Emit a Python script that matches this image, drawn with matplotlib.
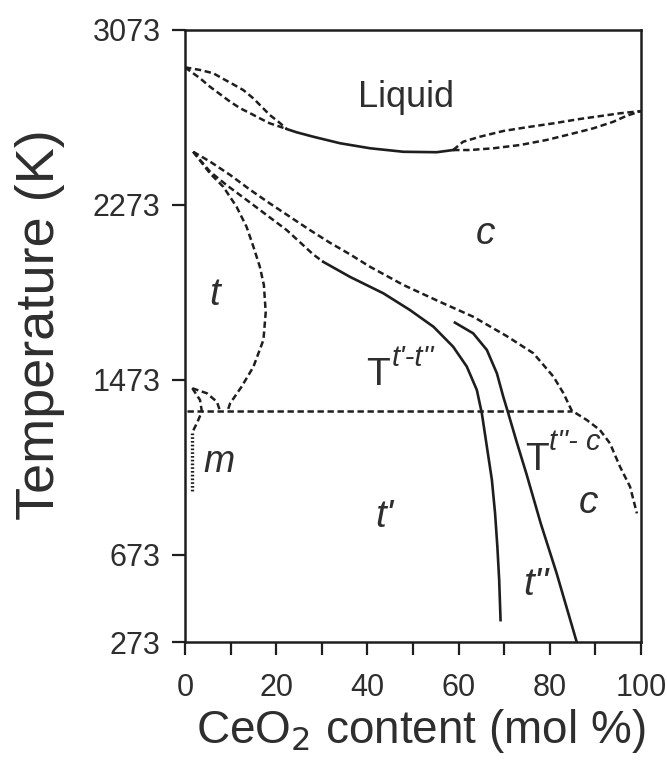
import matplotlib
matplotlib.use("Agg")
import matplotlib.pyplot as plt

plt.rcParams['font.family'] = ['Liberation Sans', 'DejaVu Sans']
plt.rcParams['lines.scale_dashes'] = False

INK = '#1e1e1e'
TXT = '#2e2e2e'

# ---- phase boundaries: CeO2 content (mol %) vs temperature (K) ----
liq_upper_left_x = [0, 3.3, 6.2, 8.4, 10.6, 12.8, 15.0, 16.8, 18.6, 20.5, 22.3]
liq_upper_left_T = [2900, 2888, 2873, 2847, 2822, 2796, 2758, 2720, 2682, 2651, 2618]
liq_lower_left_x = [0, 3.3, 5.5, 7.7, 9.9, 12.1, 14.3, 16.4, 18.6, 20.8, 22.3]
liq_lower_left_T = [2900, 2850, 2811, 2777, 2743, 2713, 2690, 2667, 2644, 2629, 2618]
liq_solid_x = [22.3, 24.5, 28.1, 34.0, 40.6, 47.9, 55.2, 58.8]
liq_solid_T = [2618, 2603, 2583, 2553, 2530, 2514, 2512, 2522]
liq_upper_right_x = [58.8, 61.0, 64.7, 69.8, 74.9, 80.8, 86.6, 91.7, 95.4, 100]
liq_upper_right_T = [2522, 2560, 2583, 2609, 2626, 2644, 2664, 2679, 2690, 2700]
liq_lower_right_x = [58.8, 62.5, 67.6, 73.5, 79.3, 84.4, 89.5, 93.9, 96.9, 100]
liq_lower_right_T = [2522, 2522, 2530, 2545, 2568, 2594, 2621, 2651, 2679, 2700]

c_outer_x = [1.8, 5.5, 9.9, 14.3, 18.6, 23.0, 27.4, 31.8, 36.2, 40.6, 47.9, 55.9,
             63.2, 70.5, 76.4, 80.8, 83.0, 84.8, 88.1, 91.0, 93.2, 95.4, 97.6, 99.1]
c_outer_T = [2514, 2469, 2408, 2340, 2278, 2217, 2156, 2098, 2045, 1988, 1905, 1828,
             1760, 1672, 1593, 1486, 1410, 1331, 1288, 1242, 1181, 1074, 983, 861]

c_inner_x = [1.8, 5.5, 9.1, 13.5, 17.9, 22.3, 25.5, 28.1, 30.3]
c_inner_T = [2514, 2423, 2362, 2294, 2225, 2156, 2095, 2045, 2011]

t_region_x = [1.8, 5.5, 8.4, 11.3, 13.5, 15.0, 16.4, 17.3, 17.7, 17.2, 15.0, 12.4, 9.9, 9.3]
t_region_T = [2514, 2415, 2354, 2263, 2171, 2080, 1989, 1905, 1780, 1654, 1531, 1440, 1364, 1328]

m_arc_x = [1.6, 4.8, 7.0, 7.7]
m_arc_T = [1433, 1410, 1371, 1328]
m_edge_x = [1.6, 3.3, 3.7, 2.6, 1.5]
m_edge_T = [1433, 1379, 1326, 1273, 1227]
m_axis_x = [1.5, 1.5]
m_axis_T = [1227, 960]

eutectoid_x = [0.5, 84.8]
eutectoid_T = [1328, 1328]

t1_t2_x = [30.3, 36.2, 43.5, 49.3, 54.5, 58.8, 61.8, 64.0, 65.1, 66.2, 67.3, 68.0, 68.5, 68.9, 69.2]
t1_t2_T = [2011, 1942, 1867, 1791, 1714, 1623, 1532, 1425, 1318, 1166, 1014, 861, 709, 556, 373]

t2_c_x = [59.2, 63.2, 66.2, 68.4, 69.8, 70.9, 72.7, 74.9, 78.0, 81.5, 85.9]
t2_c_T = [1733, 1684, 1608, 1501, 1394, 1318, 1190, 1040, 816, 587, 273]

x_ticks = [0, 20, 40, 60, 80, 100]
x_minor = [10, 30, 50, 70, 90]
y_ticks = [273, 673, 1473, 2273, 3073]

fig = plt.figure(figsize=(6.67, 7.73), dpi=100)
ax = fig.add_axes([185 / 667, 1 - 642 / 773, (641 - 185) / 667, (642 - 29.5) / 773])

dash = dict(color=INK, lw=1.8, linestyle=(0, (4.6, 2.6)))
solid = dict(color=INK, lw=1.9)

for xs, ts in [(liq_upper_left_x, liq_upper_left_T), (liq_lower_left_x, liq_lower_left_T),
               (liq_upper_right_x, liq_upper_right_T), (liq_lower_right_x, liq_lower_right_T),
               (c_outer_x, c_outer_T), (c_inner_x, c_inner_T), (t_region_x, t_region_T),
               (m_arc_x, m_arc_T), (m_edge_x, m_edge_T), (eutectoid_x, eutectoid_T)]:
    ax.plot(xs, ts, **dash)
ax.plot(m_axis_x, m_axis_T, color=INK, lw=2.4, linestyle=(0, (1.2, 1.5)))

for xs, ts in [(liq_solid_x, liq_solid_T), (t1_t2_x, t1_t2_T), (t2_c_x, t2_c_T)]:
    ax.plot(xs, ts, **solid)

ax.set_xlim(0, 100)
ax.set_ylim(273, 3073)
ax.set_xticks(x_ticks)
ax.set_xticks(x_minor, minor=True)
ax.set_yticks(y_ticks)
ax.tick_params(axis='both', which='both', direction='out', length=9.5, width=1.6,
               color=INK, labelcolor=TXT, labelsize=22)
ax.tick_params(axis='x', which='both', pad=13)
ax.tick_params(axis='y', which='both', pad=8)
for s in ax.spines.values():
    s.set_linewidth(1.8)
    s.set_color(INK)

ax.set_xlabel('CeO$_2$ content (mol %)', fontsize=33, color=TXT, va='top')
ax.xaxis.set_label_coords(0.518, -0.106)
ax.set_ylabel('Temperature (K)', fontsize=39, color=TXT, va='center')
ax.yaxis.set_label_coords(-0.318, 0.518)

lab = dict(color=TXT, ha='center', va='center')
ax.text(48.5, 2764, 'Liquid', fontsize=26, **lab)
ax.text(66.0, 2138, 'c', fontsize=28, style='italic', **lab)
ax.text(6.6, 1859, 't', fontsize=28, style='italic', **lab)
ax.text(7.5, 1096, 'm', fontsize=27, style='italic', **lab)
ax.text(43.6, 844, "t'", fontsize=28, style='italic', **lab)
ax.text(88.4, 908, 'c', fontsize=28, style='italic', **lab)
ax.text(77.0, 534, "t''", fontsize=28, style='italic', **lab)
ax.text(42.3, 1493, 'T', fontsize=28, **lab)
ax.text(50.0, 1570, "t'-t''", fontsize=21, style='italic', **lab)
ax.text(77.2, 1105, 'T', fontsize=28, **lab)
ax.text(85.5, 1186, "t''- c", fontsize=21, style='italic', **lab)

fig.savefig('out.png', dpi=100)
